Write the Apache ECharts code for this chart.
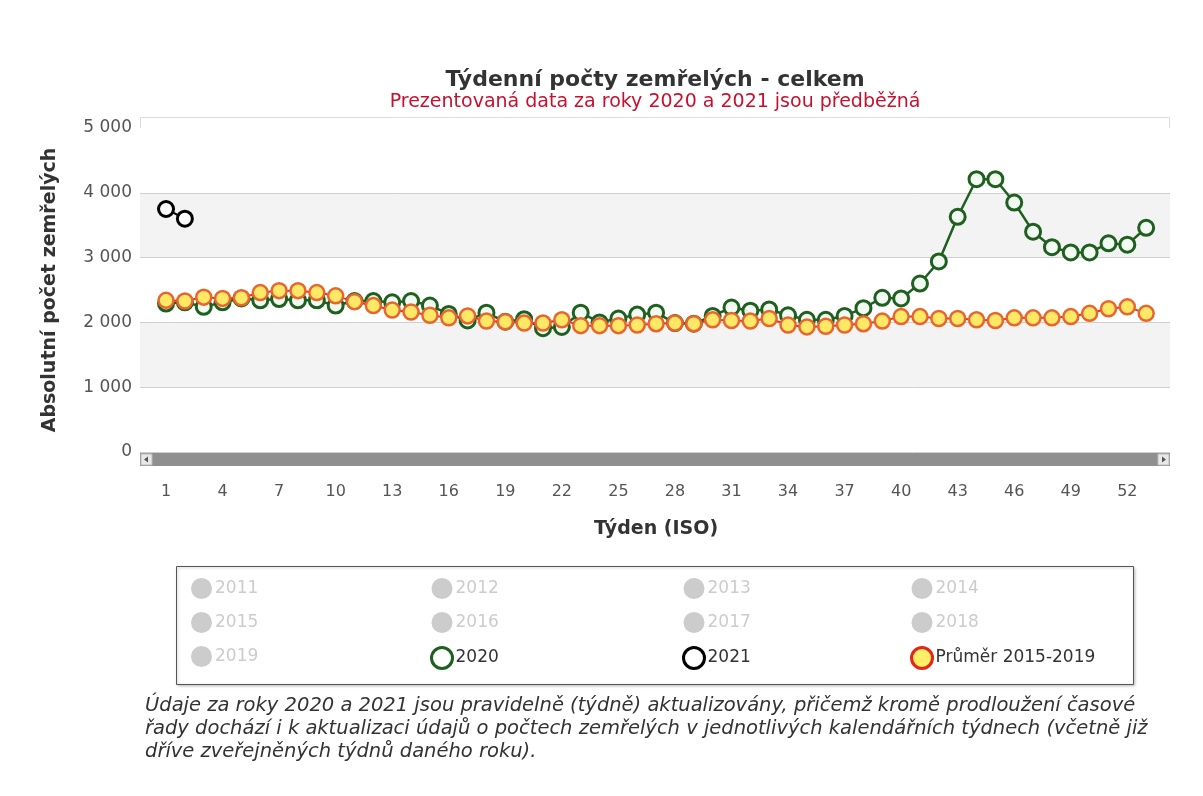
<!DOCTYPE html>
<html><head><meta charset="utf-8">
<script src="https://cdn.jsdelivr.net/npm/echarts@6/dist/echarts.min.js"></script>
<style>html,body{margin:0;padding:0;background:#fff}#c{width:1203px;height:796px}</style>
</head><body><div id="c"></div>
<script>
const weeks = ['1','2','3','4','5','6','7','8','9','10','11','12','13','14','15','16','17','18','19','20','21','22','23','24','25','26','27','28','29','30','31','32','33','34','35','36','37','38','39','40','41','42','43','44','45','46','47','48','49','50','51','52','53'];
const yMin = 0, yMax = 5000, yStep = 1000;
const hiddenYears = ['2011','2012','2013','2014','2015','2016','2017','2018','2019'];
const s2020 = [2290,2310,2240,2310,2370,2340,2360,2340,2340,2260,2330,2330,2310,2330,2260,2130,2030,2150,2010,2050,1910,1930,2150,2000,2060,2120,2150,1990,1980,2100,2230,2180,2200,2110,2040,2040,2100,2220,2380,2370,2600,2940,3630,4210,4210,3850,3400,3160,3080,3080,3220,3200,3460];
const s2021 = [3750,3600];
const sAvg = [2340,2330,2390,2370,2380,2460,2490,2490,2460,2410,2320,2260,2190,2160,2110,2070,2100,2020,2010,1990,1990,2040,1950,1950,1950,1960,1980,1990,1980,2040,2030,2020,2060,1960,1930,1940,1960,1980,2020,2090,2090,2060,2060,2040,2030,2070,2070,2070,2090,2140,2210,2240,2140];
const avgName = 'Průměr 2015-2019';
const titleText = 'Týdenní počty zemřelých - celkem';
const subText = 'Prezentovaná data za roky 2020 a 2021 jsou předběžná';
const yName = 'Absolutní počet zemřelých';
const xName = 'Týden (ISO)';
const note = 'Údaje za roky 2020 a 2021 jsou pravidelně (týdně) aktualizovány, přičemž kromě prodloužení časové\nřady dochází i k aktualizaci údajů o počtech zemřelých v jednotlivých kalendářních týdnech (včetně již\ndříve zveřejněných týdnů daného roku).';
const legendCols = [['2011','2015','2019'],['2012','2016','2020'],['2013','2017','2021'],['2014','2018',avgName]];

const FONT = '"DejaVu Sans", "Liberation Sans", Arial, sans-serif';
const green = '#1f5f1f';
const legendStyles = {
  '2020': {color:'#ffffff', borderColor: green, borderWidth:3},
  '2021': {color:'#ffffff', borderColor:'#000000', borderWidth:3},
  [avgName]: {color:'#ffee66', borderColor:'#e2261a', borderWidth:3}
};
const selected = {};
hiddenYears.forEach(y => selected[y] = false);
const legendLeft = [191, 430, 682, 910];

const chart = echarts.init(document.getElementById('c'));
const fmt = v => v === 0 ? '0' : (v/1000) + ' 000';

const series = hiddenYears.map(y => ({name:y, type:'line', xAxisIndex:1, yAxisIndex:1, data:[], itemStyle:{color:'#cccccc'}}));
series.push({
  name:'2020', type:'line', xAxisIndex:1, yAxisIndex:1, data:s2020,
  symbol:'circle', symbolSize:15, showAllSymbol:true,
  lineStyle:{color:green, width:2.5},
  itemStyle:{color:'#f2fbf2', borderColor:green, borderWidth:3},
  z:3
});
series.push({
  name:'2021', type:'line', xAxisIndex:1, yAxisIndex:1, data:s2021,
  symbol:'circle', symbolSize:15, showAllSymbol:true,
  lineStyle:{color:'#000', width:2},
  itemStyle:{color:'#ffffff', borderColor:'#000', borderWidth:3},
  z:4
});
series.push({
  name:avgName, type:'line', xAxisIndex:1, yAxisIndex:1, data:sAvg,
  symbol:'circle', symbolSize:15, showAllSymbol:true,
  lineStyle:{color:'#e53322', width:2},
  itemStyle:{color:'#ffe866', borderColor:'#e8662e', borderWidth:2.5},
  z:5
});

chart.setOption({
  animation:false,
  textStyle:{fontFamily:FONT},
  grid:[
    {left:140, right:33, top:128, bottom:344},
    {left:156.6, right:47.4, top:128, bottom:344}
  ],
  xAxis:[
    {gridIndex:0, type:'value', min:0, max:1, show:false},
    {gridIndex:1, type:'category', data:weeks, boundaryGap:true,
     axisLine:{show:false}, axisTick:{show:false}, splitLine:{show:false},
     axisLabel:{interval:2, color:'#555', fontSize:16, margin:32, fontFamily:FONT},
     name:xName, nameLocation:'middle', nameGap:68,
     nameTextStyle:{fontSize:19, fontWeight:'bold', color:'#333', fontFamily:FONT}}
  ],
  yAxis:[
    {gridIndex:0, type:'value', min:yMin, max:yMax, interval:yStep,
     axisLine:{show:false}, axisTick:{show:false},
     axisLabel:{formatter:fmt, color:'#555', fontSize:17, margin:8, fontFamily:FONT},
     splitLine:{show:true, lineStyle:{color:['#d0d0d0','#d0d0d0','#d0d0d0','#d0d0d0','#d0d0d0','rgba(0,0,0,0)'], width:1}},
     splitArea:{show:true, areaStyle:{color:['#ffffff','#f3f3f3']}},
     name:yName, nameLocation:'middle', nameGap:80, nameRotate:90,
     nameTextStyle:{fontSize:19, fontWeight:'bold', color:'#333', fontFamily:FONT}},
    {gridIndex:1, type:'value', min:yMin, max:yMax, interval:yStep, show:false, splitLine:{show:false}}
  ],
  legend: legendCols.map((col, i) => ({
    orient:'vertical', left:legendLeft[i], top:578, padding:0,
    itemWidth:21, itemHeight:21, itemGap:13,
    icon:'circle', selected:selected, selectedMode:true,
    inactiveColor:'#cccccc', inactiveBorderColor:'#cccccc',
    textStyle:{fontSize:17, color:'#333', fontFamily:FONT, padding:[0,0,0,-2]},
    data: col.map(n => legendStyles[n] ? {name:n, icon:'circle', itemStyle:legendStyles[n]} : {name:n, icon:'circle', itemStyle:{color:'#cccccc', borderWidth:0}})
  })),
  series: series,
  graphic:[
    {type:'rect', shape:{x:140.5, y:117.5, width:1029, height:348}, style:{fill:'none', stroke:'#dcdcdc', lineWidth:1}, z:-1, silent:true},
    {type:'rect', shape:{x:140, y:453, width:1030, height:13}, style:{fill:'#8f8f8f'}, silent:true, z:10},
    {type:'rect', shape:{x:141, y:454, width:11, height:11}, style:{fill:'#e8e8e8', stroke:'#bbb', lineWidth:1}, silent:true, z:11},
    {type:'polygon', shape:{points:[[144,459.5],[148,456.5],[148,462.5]]}, style:{fill:'#555'}, silent:true, z:12},
    {type:'rect', shape:{x:1158, y:454, width:11, height:11}, style:{fill:'#e8e8e8', stroke:'#bbb', lineWidth:1}, silent:true, z:11},
    {type:'polygon', shape:{points:[[1166,459.5],[1162,456.5],[1162,462.5]]}, style:{fill:'#555'}, silent:true, z:12},
    {type:'text', x:655, y:80, style:{text:titleText, font:'bold 22px '+FONT, fill:'#333', textAlign:'center', textVerticalAlign:'middle'}, silent:true},
    {type:'text', x:655, y:102, style:{text:subText, font:'19px '+FONT, fill:'#c8102e', textAlign:'center', textVerticalAlign:'middle'}, silent:true},
    {type:'rect', shape:{x:176.5, y:566.5, width:957, height:118}, style:{fill:'#fff', stroke:'#555', lineWidth:1, shadowBlur:3, shadowColor:'rgba(0,0,0,0.25)', shadowOffsetX:1, shadowOffsetY:1}, z:-1, silent:true},
    {type:'text', x:145, y:694, style:{text:note, font:'oblique 19.5px '+FONT, fill:'#333', lineHeight:23}, silent:true}
  ]
});
</script></body></html>
